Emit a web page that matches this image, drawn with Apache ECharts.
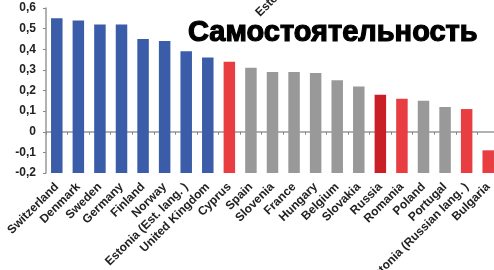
<!DOCTYPE html>
<html>
<head>
<meta charset="utf-8">
<script src="https://cdn.jsdelivr.net/npm/echarts@6/dist/echarts.min.js"></script>
<style>
  html, body { margin: 0; padding: 0; background: #fff; }
  #chart { width: 494px; height: 270px; }
</style>
</head>
<body>
<div id="chart"></div>
<script>
// Country scores
const countries = [
  'Switzerland', 'Denmark', 'Sweden', 'Germany', 'Finland', 'Norway',
  'Estonia (Est. lang. )', 'United Kingdom', 'Cyprus', 'Spain', 'Slovenia',
  'France', 'Hungary', 'Belgium', 'Slovakia', 'Russia', 'Romania', 'Poland',
  'Portugal', 'Estonia (Russian lang. )', 'Bulgaria'
];
const scores = [
  0.55, 0.54, 0.52, 0.52, 0.45, 0.44, 0.39, 0.36, 0.34, 0.31, 0.29,
  0.29, 0.285, 0.25, 0.22, 0.18, 0.16, 0.15, 0.12, 0.11, -0.09
];
// colour group of every bar: b = blue, r = red, d = dark red, g = grey
const groups = [
  'b', 'b', 'b', 'b', 'b', 'b', 'b', 'b', 'r', 'g', 'g',
  'g', 'g', 'g', 'g', 'd', 'r', 'g', 'g', 'r', 'r'
];
const yTicks = [-0.2, -0.1, 0, 0.1, 0.2, 0.3, 0.4, 0.5, 0.6];

const palette = { b: '#3b5ca8', r: '#e83d41', d: '#c91f27', g: '#999999' };

const chart = echarts.init(document.getElementById('chart'));

chart.setOption({
  animation: false,
  grid: {
    left: 46, top: 8, width: 453, height: 165,
    containLabel: false,
    outerBoundsMode: 'none'
  },
  title: {
    text: 'Самостоятельность',
    left: 183,
    top: 13,
    textStyle: {
      fontFamily: 'Liberation Sans',
      fontWeight: 'bold',
      fontSize: 29,
      color: '#000',
      textBorderColor: '#000',
      textBorderWidth: 1.2
    }
  },
  graphic: [{
    type: 'text',
    x: 262,
    y: 19,
    rotation: Math.PI / 4,
    style: {
      text: 'Estonia',
      fontFamily: 'Liberation Sans',
      fontWeight: 'bold',
      fontSize: 12,
      fill: '#222',
      textVerticalAlign: 'bottom'
    }
  }],
  xAxis: {
    type: 'category',
    data: countries,
    axisLine: { lineStyle: { color: '#999', width: 1.5 } },
    axisTick: { show: true, length: 3, lineStyle: { color: '#888' } },
    axisLabel: {
      rotate: 45,
      interval: 0,
      margin: 12,
      fontFamily: 'Liberation Sans',
      fontWeight: 'bold',
      fontSize: 12,
      color: '#222'
    }
  },
  yAxis: {
    type: 'value',
    min: yTicks[0],
    max: yTicks[yTicks.length - 1],
    interval: 0.1,
    startValue: yTicks[0],
    splitLine: { show: false },
    axisLine: { show: true, lineStyle: { color: '#999', width: 1.5 } },
    axisTick: { show: true, length: 3, lineStyle: { color: '#888' } },
    axisLabel: {
      margin: 10,
      fontFamily: 'Liberation Sans',
      fontWeight: 'bold',
      fontSize: 12,
      color: '#222',
      formatter: v => String(Math.round(v * 10) / 10).replace('.', ',')
    }
  },
  series: [{
    type: 'bar',
    barWidth: 11.5,
    data: scores.map((v, i) => ({ value: v, itemStyle: { color: palette[groups[i]] } }))
  }]
});
</script>
</body>
</html>
